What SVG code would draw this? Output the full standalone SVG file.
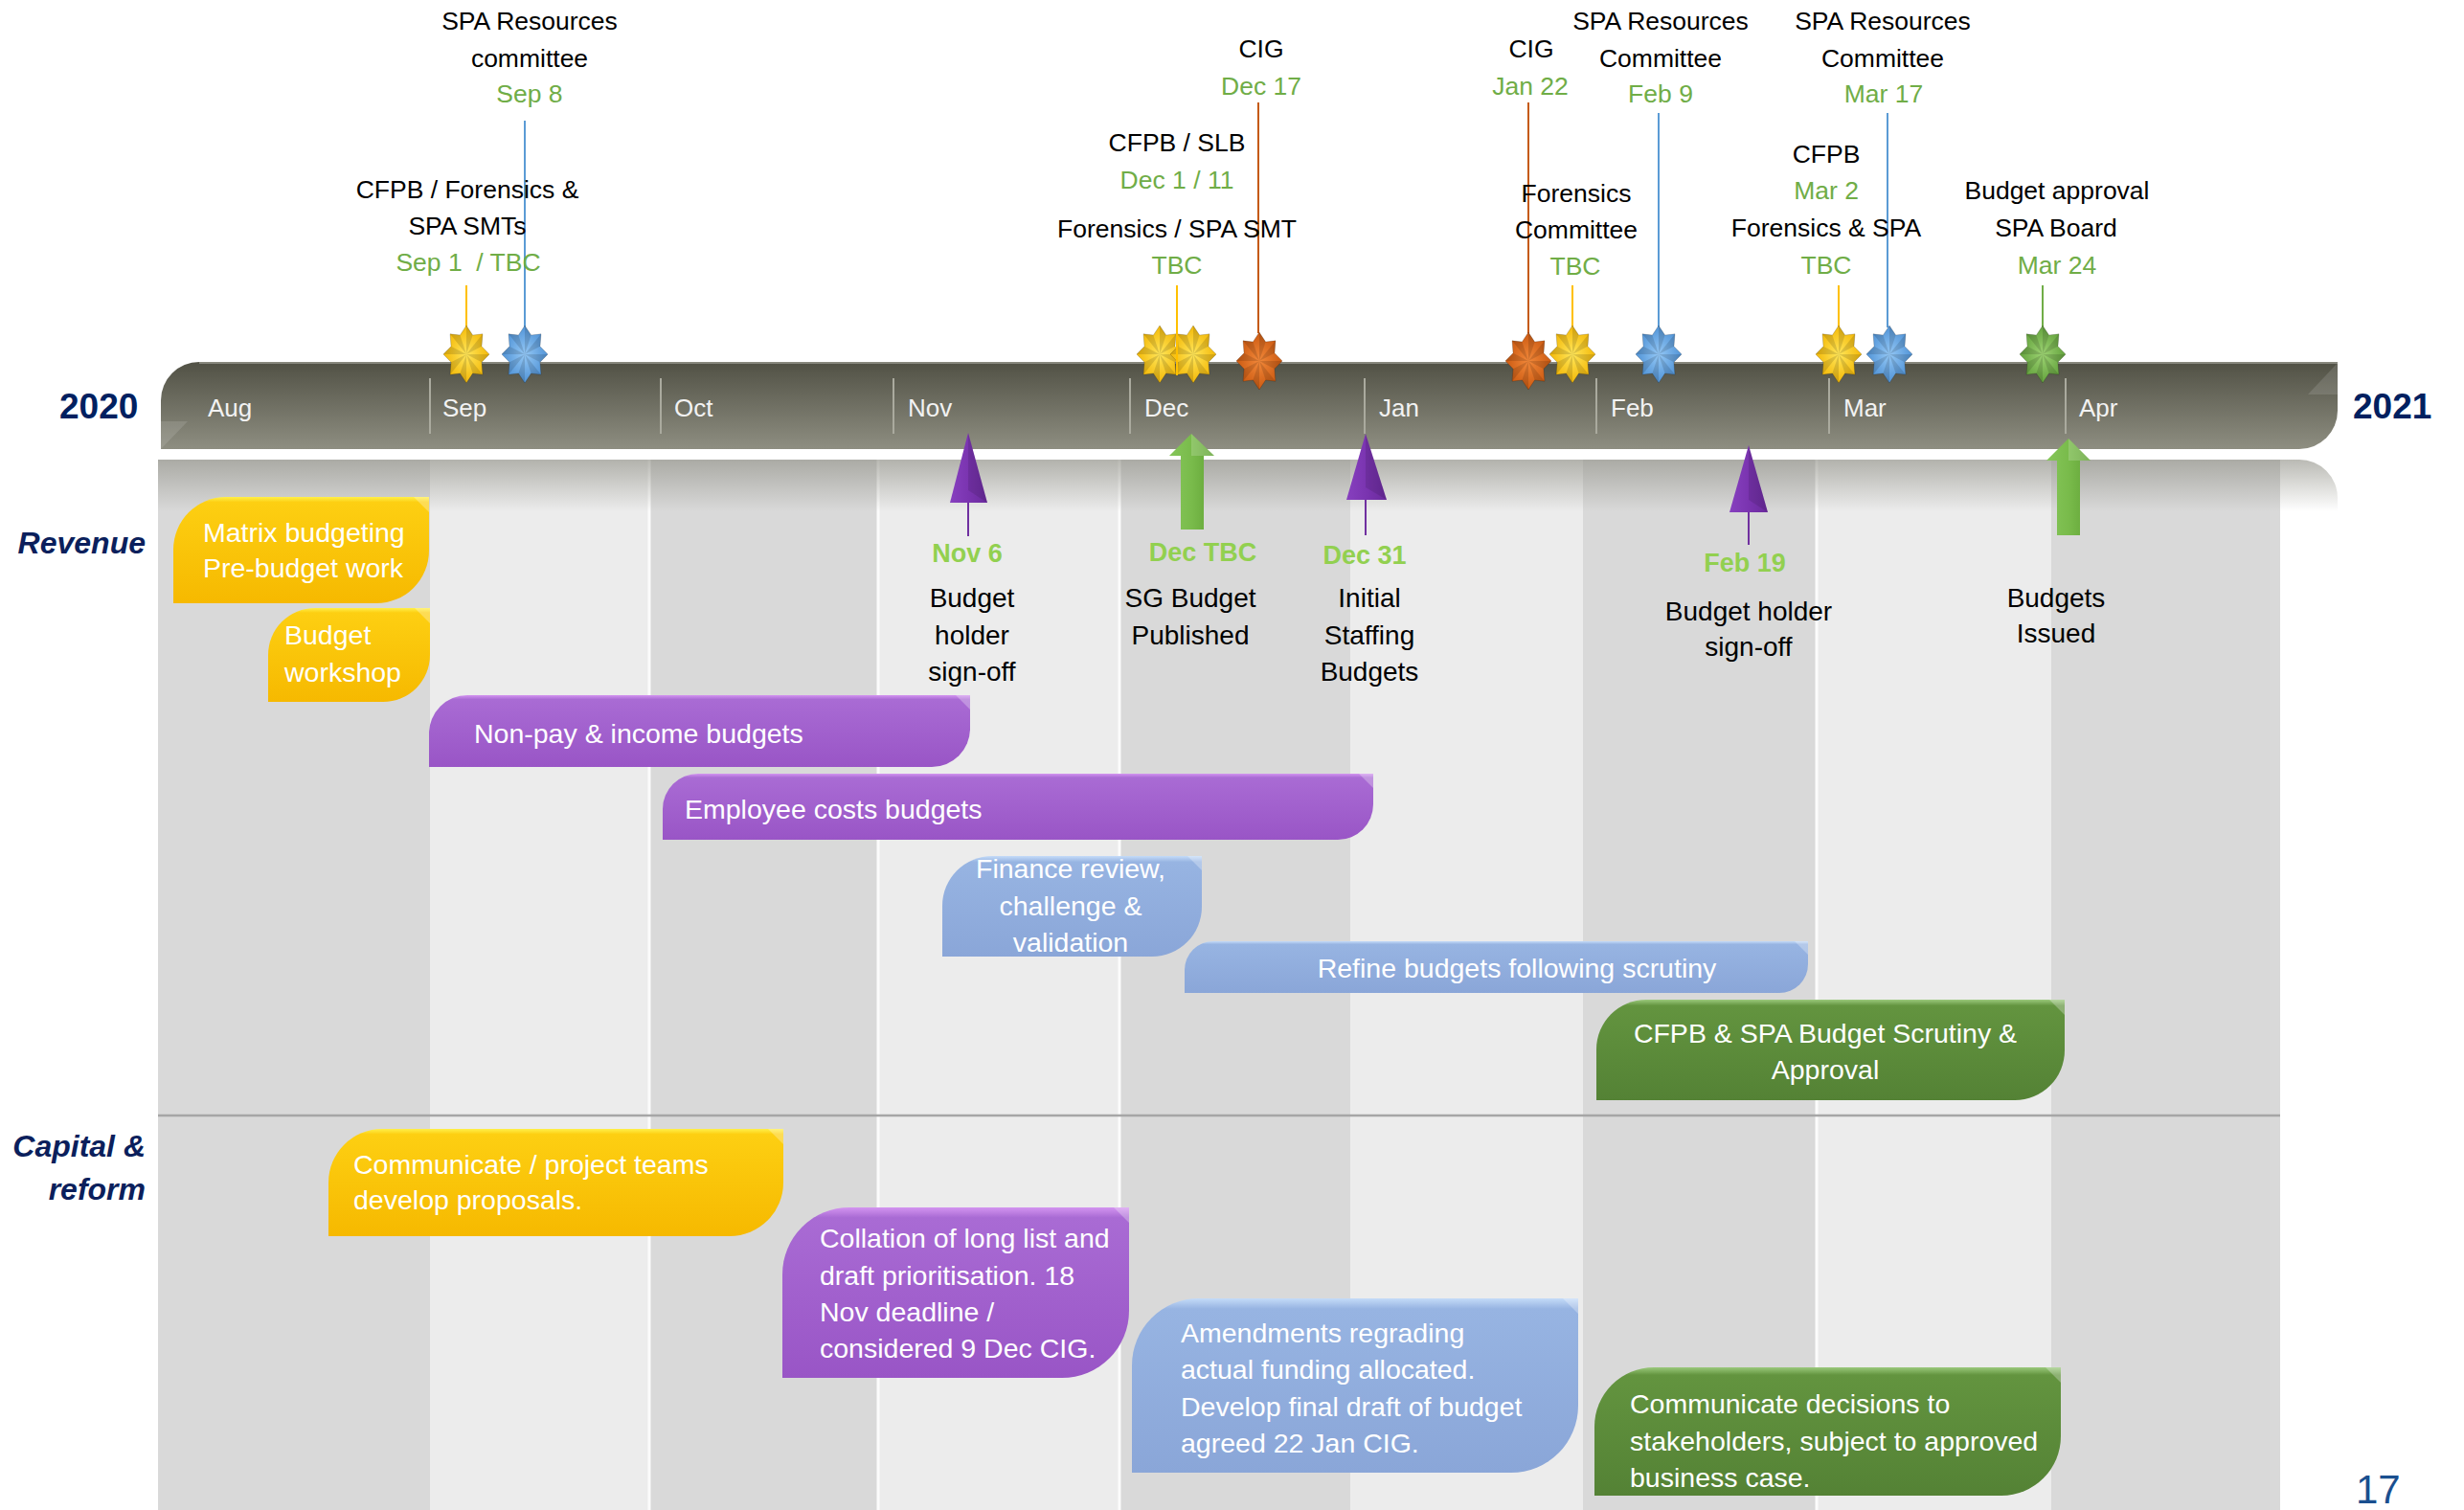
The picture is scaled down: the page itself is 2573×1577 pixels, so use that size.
<svg xmlns="http://www.w3.org/2000/svg" xmlns:xlink="http://www.w3.org/1999/xlink" width="2573" height="1577" viewBox="0 0 2573 1577">
<style>
text{font-family:"Liberation Sans",Arial,sans-serif}
.lbl{font-size:26.5px;fill:#000;text-anchor:middle}
.dt{fill:#70ad47}
.mo{font-size:26px;fill:#f2f2f2}
.box{font-size:28.5px;fill:#fff}
.boxc{font-size:28.5px;fill:#fff;text-anchor:middle}
.ms{font-size:28px;fill:#000;text-anchor:middle}
.md{font-size:27px;font-weight:bold;fill:#92d050;text-anchor:middle}
.yr{font-size:37px;font-weight:bold;fill:#002060}
.lane{font-size:32px;font-weight:bold;font-style:italic;fill:#0b1f5c;text-anchor:end}
.col-d{fill:#d9d9d9}
.col-l{fill:#ececec}
.sep{stroke:#fbfbfb;stroke-width:3}
.div{stroke:#aaaa9e;stroke-width:2}
.lead{stroke-width:2;fill:none}
.facet{fill:#000;fill-opacity:.13}
.chamf{fill:#fff;fill-opacity:.28}
</style>
<defs>
<linearGradient id="barG" x1="0" y1="0" x2="0" y2="1">
<stop offset="0" stop-color="#515145"/><stop offset="1" stop-color="#8e8e81"/>
</linearGradient>
<linearGradient id="reflG" x1="0" y1="0" x2="0" y2="1">
<stop offset="0" stop-color="#8c8c82" stop-opacity=".6"/><stop offset="1" stop-color="#8c8c82" stop-opacity="0"/>
</linearGradient>
<linearGradient id="yelG" x1="0" y1="0" x2="0" y2="1">
<stop offset="0" stop-color="#fff04a"/><stop offset=".05" stop-color="#fdcf12"/><stop offset="1" stop-color="#f6b900"/>
</linearGradient>
<linearGradient id="purG" x1="0" y1="0" x2="0" y2="1">
<stop offset="0" stop-color="#d394f0"/><stop offset=".06" stop-color="#a96bd4"/><stop offset="1" stop-color="#9955c6"/>
</linearGradient>
<linearGradient id="bluG" x1="0" y1="0" x2="0" y2="1">
<stop offset="0" stop-color="#c4dbf8"/><stop offset=".06" stop-color="#97b4e2"/><stop offset="1" stop-color="#8aa6d8"/>
</linearGradient>
<linearGradient id="grnG" x1="0" y1="0" x2="0" y2="1">
<stop offset="0" stop-color="#9bc97c"/><stop offset=".06" stop-color="#63943f"/><stop offset="1" stop-color="#548235"/>
</linearGradient>
<linearGradient id="arrG" x1="0" y1="0" x2="1" y2="0">
<stop offset="0" stop-color="#86c65a"/><stop offset=".5" stop-color="#79bb4b"/><stop offset="1" stop-color="#62a336"/>
</linearGradient>
<linearGradient id="triG" x1="0" y1="0" x2="1" y2="0">
<stop offset="0" stop-color="#8740bf"/><stop offset=".5" stop-color="#7a34b0"/><stop offset="1" stop-color="#6a2a9c"/>
</linearGradient>
<radialGradient id="sY" cx=".5" cy=".5" r=".55"><stop offset="0" stop-color="#ffe65a"/><stop offset="1" stop-color="#f2b400"/></radialGradient>
<radialGradient id="sB" cx=".5" cy=".5" r=".55"><stop offset="0" stop-color="#94c8f6"/><stop offset="1" stop-color="#4a8ed3"/></radialGradient>
<radialGradient id="sO" cx=".5" cy=".5" r=".55"><stop offset="0" stop-color="#f2883a"/><stop offset="1" stop-color="#c8560e"/></radialGradient>
<radialGradient id="sG" cx=".5" cy=".5" r=".55"><stop offset="0" stop-color="#9dd373"/><stop offset="1" stop-color="#5e9e38"/></radialGradient>
<path id="star" d="M0,-30 L6.61,-19.96 L16.97,-21.21 L15.96,-8.27 L24,0 L15.96,8.27 L16.97,21.21 L6.61,19.96 L0,30 L-6.61,19.96 L-16.97,21.21 L-15.96,8.27 L-24,0 L-15.96,-8.27 L-16.97,-21.21 L-6.61,-19.96 Z" stroke="#000" stroke-opacity=".18" stroke-width="1"/>
<path id="facet" class="facet" d="M0,0 L0,-30 L6.61,-19.96 Z M0,0 L16.97,-21.21 L15.96,-8.27 Z M0,0 L24,0 L15.96,8.27 Z M0,0 L16.97,21.21 L6.61,19.96 Z M0,0 L0,30 L-6.61,19.96 Z M0,0 L-16.97,21.21 L-15.96,8.27 Z M0,0 L-24,0 L-15.96,-8.27 Z M0,0 L-16.97,-21.21 L-6.61,-19.96 Z"/>
</defs>
<rect width="2573" height="1577" fill="#fff"/>

<g id="grid">
<rect class="col-d" x="165" y="480" width="284" height="1097"/>
<rect class="col-l" x="449" y="480" width="229" height="1097"/>
<rect class="col-d" x="678" y="480" width="239" height="1097"/>
<rect class="col-l" x="917" y="480" width="252" height="1097"/>
<rect class="col-d" x="1169" y="480" width="241" height="1097"/>
<rect class="col-l" x="1410" y="480" width="243" height="1097"/>
<rect class="col-d" x="1653" y="480" width="244" height="1097"/>
<rect class="col-l" x="1897" y="480" width="245" height="1097"/>
<rect class="col-d" x="2142" y="480" width="239" height="1097"/>
<line class="sep" x1="678" y1="480" x2="678" y2="1577"/>
<line class="sep" x1="917" y1="480" x2="917" y2="1577"/>
<line class="sep" x1="1169" y1="480" x2="1169" y2="1577"/>
<line class="sep" x1="1897" y1="480" x2="1897" y2="1577"/>
<path d="M165,480 H2401 A40,40 0 0 1 2441,520 V534 H165 Z" fill="url(#reflG)"/>
<line x1="165" y1="1165" x2="2381" y2="1165" stroke="#a6a6a6" stroke-width="2.5"/>
</g>

<g id="lanes">
<text class="lane" x="152" y="578">Revenue</text>
<text class="lane" x="152" y="1208">Capital &amp;</text>
<text class="lane" x="152" y="1253">reform</text>
</g>

<g id="timeline">
<path d="M168,418 A40,40 0 0 1 208,378 H2441 V429 A40,40 0 0 1 2401,469 H168 Z" fill="url(#barG)"/>
<line x1="208" y1="379" x2="2441" y2="379" stroke="#9a9a90" stroke-width="1.5"/>
<polygon points="168,469 168,440 196,440" fill="#fff" fill-opacity=".12"/>
<polygon points="2441,379 2441,412 2410,412" fill="#fff" fill-opacity=".12"/>
<line class="div" x1="449" y1="395" x2="449" y2="453"/>
<line class="div" x1="690" y1="395" x2="690" y2="453"/>
<line class="div" x1="933" y1="395" x2="933" y2="453"/>
<line class="div" x1="1180" y1="395" x2="1180" y2="453"/>
<line class="div" x1="1425" y1="395" x2="1425" y2="453"/>
<line class="div" x1="1667" y1="395" x2="1667" y2="453"/>
<line class="div" x1="1910" y1="395" x2="1910" y2="453"/>
<line class="div" x1="2157" y1="395" x2="2157" y2="453"/>
<text class="mo" x="217" y="435">Aug</text>
<text class="mo" x="462" y="435">Sep</text>
<text class="mo" x="704" y="435">Oct</text>
<text class="mo" x="948" y="435">Nov</text>
<text class="mo" x="1195" y="435">Dec</text>
<text class="mo" x="1440" y="435">Jan</text>
<text class="mo" x="1682" y="435">Feb</text>
<text class="mo" x="1925" y="435">Mar</text>
<text class="mo" x="2171" y="435">Apr</text>
<text class="yr" x="62" y="437">2020</text>
<text class="yr" x="2457" y="437">2021</text>
</g>

<g id="connectors">
<line class="lead" stroke="#ffc000" x1="487" y1="298" x2="487" y2="342"/>
<line class="lead" stroke="#5b9bd5" x1="548" y1="126" x2="548" y2="342"/>
<line class="lead" stroke="#c55a11" x1="1314" y1="107" x2="1314" y2="348"/>
<line class="lead" stroke="#c55a11" x1="1596" y1="107" x2="1596" y2="348"/>
<line class="lead" stroke="#ffc000" x1="1642" y1="298" x2="1642" y2="342"/>
<line class="lead" stroke="#5b9bd5" x1="1732" y1="118" x2="1732" y2="342"/>
<line class="lead" stroke="#ffc000" x1="1920" y1="298" x2="1920" y2="342"/>
<line class="lead" stroke="#5b9bd5" x1="1971" y1="118" x2="1971" y2="342"/>
<line class="lead" stroke="#70ad47" x1="2133" y1="298" x2="2133" y2="342"/>
<line class="lead" stroke="#7030a0" x1="1011" y1="520" x2="1011" y2="560"/>
<line class="lead" stroke="#7030a0" x1="1426" y1="518" x2="1426" y2="559"/>
<line class="lead" stroke="#7030a0" x1="1826" y1="530" x2="1826" y2="569"/>
</g>

<g id="m-sep1">
<g transform="translate(487,370)"><use href="#star" fill="url(#sY)"/><use href="#facet"/></g>
<text class="lbl" x="488" y="207">CFPB / Forensics &amp;</text>
<text class="lbl" x="488" y="245">SPA SMTs</text>
<text class="lbl dt" x="489" y="283" xml:space="preserve">Sep 1  / TBC</text>
</g>
<g id="m-sep8">
<g transform="translate(548,370)"><use href="#star" fill="url(#sB)"/><use href="#facet"/></g>
<text class="lbl" x="553" y="31">SPA Resources</text>
<text class="lbl" x="553" y="70">committee</text>
<text class="lbl dt" x="553" y="107">Sep 8</text>
</g>
<g id="m-dec1">
<g transform="translate(1211,370)"><use href="#star" fill="url(#sY)"/><use href="#facet"/></g>
<g transform="translate(1246,370)"><use href="#star" fill="url(#sY)"/><use href="#facet"/></g>
<line class="lead" stroke="#ffc000" x1="1229" y1="298" x2="1229" y2="392"/>
<text class="lbl" x="1229" y="158">CFPB / SLB</text>
<text class="lbl dt" x="1229" y="197">Dec 1 / 11</text>
<text class="lbl" x="1229" y="248">Forensics / SPA SMT</text>
<text class="lbl dt" x="1229" y="286">TBC</text>
</g>
<g id="m-dec17">
<g transform="translate(1315,377)"><use href="#star" fill="url(#sO)"/><use href="#facet"/></g>
<text class="lbl" x="1317" y="60">CIG</text>
<text class="lbl dt" x="1317" y="99">Dec 17</text>
</g>
<g id="m-jan22">
<g transform="translate(1596,377)"><use href="#star" fill="url(#sO)"/><use href="#facet"/></g>
<text class="lbl" x="1599" y="60">CIG</text>
<text class="lbl dt" x="1598" y="99">Jan 22</text>
</g>
<g id="m-forensics">
<g transform="translate(1642,370)"><use href="#star" fill="url(#sY)"/><use href="#facet"/></g>
<text class="lbl" x="1646" y="211">Forensics</text>
<text class="lbl" x="1646" y="249">Committee</text>
<text class="lbl dt" x="1645" y="287">TBC</text>
</g>
<g id="m-feb9">
<g transform="translate(1732,370)"><use href="#star" fill="url(#sB)"/><use href="#facet"/></g>
<text class="lbl" x="1734" y="31">SPA Resources</text>
<text class="lbl" x="1734" y="70">Committee</text>
<text class="lbl dt" x="1734" y="107">Feb 9</text>
</g>
<g id="m-mar2">
<g transform="translate(1920,370)"><use href="#star" fill="url(#sY)"/><use href="#facet"/></g>
<text class="lbl" x="1907" y="170">CFPB</text>
<text class="lbl dt" x="1907" y="208">Mar 2</text>
<text class="lbl" x="1907" y="247">Forensics &amp; SPA</text>
<text class="lbl dt" x="1907" y="286">TBC</text>
</g>
<g id="m-mar17">
<g transform="translate(1973,370)"><use href="#star" fill="url(#sB)"/><use href="#facet"/></g>
<text class="lbl" x="1966" y="31">SPA Resources</text>
<text class="lbl" x="1966" y="70">Committee</text>
<text class="lbl dt" x="1967" y="107">Mar 17</text>
</g>
<g id="m-mar24">
<g transform="translate(2133,370)"><use href="#star" fill="url(#sG)"/><use href="#facet"/></g>
<text class="lbl" x="2148" y="208">Budget approval</text>
<text class="lbl" x="2147" y="247">SPA Board</text>
<text class="lbl dt" x="2148" y="286">Mar 24</text>
</g>

<g id="m-nov6">
<polygon points="1011,452 1031,525 992,525" fill="url(#triG)"/>
<polygon points="1011,452 1031,525 1011,512" fill="#000" fill-opacity=".1"/>
<text class="md" x="1010" y="587">Nov 6</text>
<text class="ms" x="1015" y="634">Budget</text>
<text class="ms" x="1015" y="673">holder</text>
<text class="ms" x="1015" y="711">sign-off</text>
</g>
<g id="m-dectbc">
<path d="M1244,453 L1268,476 H1257 V553 H1233 V476 H1221 Z" fill="url(#arrG)"/>
<path d="M1244,453 L1268,476 H1244 Z" fill="#fff" fill-opacity=".18"/>
<text class="md" x="1256" y="586">Dec TBC</text>
<text class="ms" x="1243" y="634">SG Budget</text>
<text class="ms" x="1243" y="673">Published</text>
</g>
<g id="m-dec31">
<polygon points="1426,453 1448,522 1406,522" fill="url(#triG)"/>
<polygon points="1426,453 1448,522 1426,509" fill="#000" fill-opacity=".1"/>
<text class="md" x="1425" y="589">Dec 31</text>
<text class="ms" x="1430" y="634">Initial</text>
<text class="ms" x="1430" y="673">Staffing</text>
<text class="ms" x="1430" y="711">Budgets</text>
</g>
<g id="m-feb19">
<polygon points="1826,465 1846,535 1806,535" fill="url(#triG)"/>
<polygon points="1826,465 1846,535 1826,522" fill="#000" fill-opacity=".1"/>
<text class="md" x="1822" y="597">Feb 19</text>
<text class="ms" x="1826" y="648">Budget holder</text>
<text class="ms" x="1826" y="685">sign-off</text>
</g>
<g id="m-issued">
<path d="M2160,458 L2183,481 H2172 V559 H2148 V481 H2137 Z" fill="url(#arrG)"/>
<path d="M2160,458 L2183,481 H2160 Z" fill="#fff" fill-opacity=".18"/>
<text class="ms" x="2147" y="634">Budgets</text>
<text class="ms" x="2147" y="671">Issued</text>
</g>

<g id="t-matrix">
<path d="M181,574 A55,55 0 0 1 236,519 H448 V575 A55,55 0 0 1 393,630 H181 Z" fill="url(#yelG)"/>
<polygon class="chamf" points="432,519 448,519 448,535"/>
<text class="box" x="212" y="566">Matrix budgeting</text>
<text class="box" x="212" y="603">Pre-budget work</text>
</g>
<g id="t-workshop">
<path d="M280,684 A49,49 0 0 1 329,635 H449 V684 A49,49 0 0 1 400,733 H280 Z" fill="url(#yelG)"/>
<polygon class="chamf" points="433,635 449,635 449,651"/>
<text class="box" x="297" y="673">Budget</text>
<text class="box" x="297" y="712">workshop</text>
</g>
<g id="t-nonpay">
<path d="M448,766 A40,40 0 0 1 488,726 H1013 V761 A40,40 0 0 1 973,801 H448 Z" fill="url(#purG)"/>
<polygon class="chamf" points="998,726 1013,726 1013,741"/>
<text class="box" x="495" y="776">Non-pay &amp; income budgets</text>
</g>
<g id="t-employee">
<path d="M692,845 A37,37 0 0 1 729,808 H1434 V840 A37,37 0 0 1 1397,877 H692 Z" fill="url(#purG)"/>
<polygon class="chamf" points="1419,808 1434,808 1434,823"/>
<text class="box" x="715" y="855">Employee costs budgets</text>
</g>
<g id="t-finance">
<path d="M984,946 A52,52 0 0 1 1036,894 H1255 V947 A52,52 0 0 1 1203,999 H984 Z" fill="url(#bluG)"/>
<polygon class="chamf" points="1240,894 1255,894 1255,909"/>
<text class="boxc" x="1118" y="917">Finance review,</text>
<text class="boxc" x="1118" y="956">challenge &amp;</text>
<text class="boxc" x="1118" y="994">validation</text>
</g>
<g id="t-refine">
<path d="M1237,1013 A30,30 0 0 1 1267,983 H1888 V1007 A30,30 0 0 1 1858,1037 H1237 Z" fill="url(#bluG)"/>
<polygon class="chamf" points="1874,983 1888,983 1888,997"/>
<text class="boxc" x="1584" y="1021">Refine budgets following scrutiny</text>
</g>
<g id="t-scrutiny">
<path d="M1667,1096 A52,52 0 0 1 1719,1044 H2156 V1097 A52,52 0 0 1 2104,1149 H1667 Z" fill="url(#grnG)"/>
<polygon class="chamf" points="2140,1044 2156,1044 2156,1060"/>
<text class="boxc" x="1906" y="1089">CFPB &amp; SPA Budget Scrutiny &amp;</text>
<text class="boxc" x="1906" y="1127">Approval</text>
</g>
<g id="t-communicate">
<path d="M343,1235 A56,56 0 0 1 399,1179 H818 V1235 A56,56 0 0 1 762,1291 H343 Z" fill="url(#yelG)"/>
<polygon class="chamf" points="802,1179 818,1179 818,1195"/>
<text class="box" x="369" y="1226">Communicate / project teams</text>
<text class="box" x="369" y="1263">develop proposals.</text>
</g>
<g id="t-collation">
<path d="M817,1331 A70,70 0 0 1 887,1261 H1179 V1369 A70,70 0 0 1 1109,1439 H817 Z" fill="url(#purG)"/>
<polygon class="chamf" points="1163,1261 1179,1261 1179,1277"/>
<text class="box" x="856" y="1303">Collation of long list and</text>
<text class="box" x="856" y="1342">draft prioritisation. 18</text>
<text class="box" x="856" y="1380">Nov deadline /</text>
<text class="box" x="856" y="1418">considered 9 Dec CIG.</text>
</g>
<g id="t-amend">
<path d="M1182,1426 A70,70 0 0 1 1252,1356 H1648 V1468 A70,70 0 0 1 1578,1538 H1182 Z" fill="url(#bluG)"/>
<polygon class="chamf" points="1632,1356 1648,1356 1648,1372"/>
<text class="box" x="1233" y="1402">Amendments regrading</text>
<text class="box" x="1233" y="1440">actual funding allocated.</text>
<text class="box" x="1233" y="1479">Develop final draft of budget</text>
<text class="box" x="1233" y="1517">agreed 22 Jan CIG.</text>
</g>
<g id="t-decisions">
<path d="M1665,1490 A62,62 0 0 1 1727,1428 H2152 V1500 A62,62 0 0 1 2090,1562 H1665 Z" fill="url(#grnG)"/>
<polygon class="chamf" points="2136,1428 2152,1428 2152,1444"/>
<text class="box" x="1702" y="1476">Communicate decisions to</text>
<text class="box" x="1702" y="1515">stakeholders, subject to approved</text>
<text class="box" x="1702" y="1553">business case.</text>
</g>

<text x="2460" y="1570" style="font-size:42px;fill:#1a4f8f">17</text>
</svg>
